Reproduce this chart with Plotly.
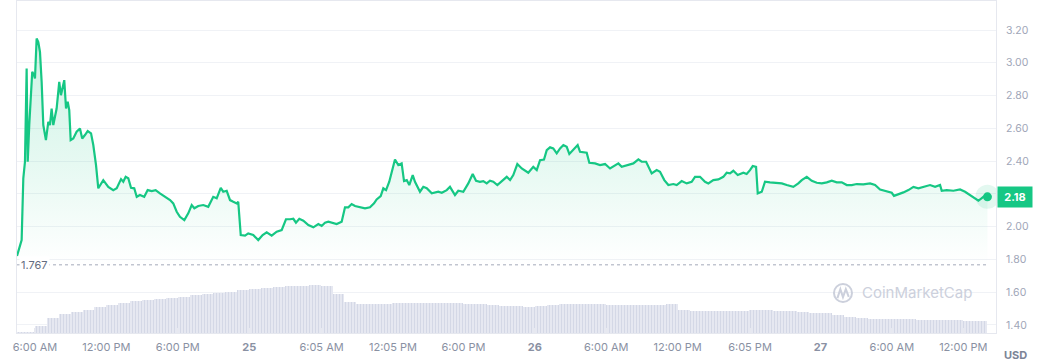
import pandas as pd
import plotly.graph_objects as go

BASE = pd.Timestamp("2024-01-24 00:00")

# ---- price series (hours after 24th 00:00, USD) ----
price_hours = [
    4.49, 4.68, 4.88, 5.02, 5.16, 5.30, 5.39, 5.52, 5.66, 5.77, 5.92, 6.00, 6.14, 6.28, 6.42,
    6.56, 6.70, 6.92, 7.12, 7.26, 7.40, 7.54, 7.82, 8.04, 8.18, 8.33, 8.46, 8.61, 8.75, 8.88,
    9.00, 9.22, 9.36, 9.50, 9.78, 9.97, 10.20, 10.43, 10.71, 10.90, 11.13, 11.32, 11.74, 12.16,
    12.58, 12.87, 13.23, 13.42, 13.62, 13.84, 14.07, 14.34, 14.55, 14.82, 15.18, 15.47, 15.81,
    16.14, 16.50, 16.92, 17.35, 17.62, 17.91, 18.18, 18.55, 18.88, 19.17, 19.39, 19.72, 20.14,
    20.56, 20.98, 21.27, 21.61, 21.82, 22.11, 22.39, 22.66, 22.95, 23.08, 23.29, 23.65, 23.92,
    24.34, 24.76,
    25.13, 25.47, 25.89, 26.31, 26.73, 27.09, 27.43, 27.71, 27.93, 28.21, 28.55, 28.97, 29.39,
    29.81, 30.09, 30.37, 30.65, 30.93, 31.35, 31.77, 32.05, 32.33, 32.61, 32.89, 33.31, 33.73,
    34.15, 34.49, 34.71, 35.05, 35.27, 35.50, 35.77, 35.97, 36.25, 36.53, 36.81, 37.01, 37.24,
    37.45, 37.74, 37.93, 38.35, 38.63, 38.92, 39.34, 39.89, 40.18, 40.60, 40.87, 41.29, 41.57,
    41.99, 42.41, 42.78, 43.06, 43.39, 43.67, 43.96, 44.23, 44.51, 44.85, 45.08,
    45.35, 45.64, 45.92, 46.19, 46.53, 46.90, 47.45, 47.87, 48.16, 48.44, 48.77, 49.00, 49.28,
    49.55, 49.84, 50.12, 50.40, 50.68, 50.90, 51.24, 51.60, 51.80, 52.36, 52.58, 53.06, 53.48,
    53.90, 54.32, 54.74, 55.02, 55.30, 55.72, 56.28, 56.70, 56.98, 57.35, 57.82, 58.24, 58.52,
    58.88, 59.22, 59.64, 59.92, 60.34, 60.76, 61.18, 61.46, 61.88, 62.30, 62.58, 63.00, 63.42,
    63.84, 64.12, 64.40, 64.68, 65.05, 65.52, 65.80, 66.08,
    66.31, 66.59, 66.73, 67.07, 67.34, 67.76, 68.18, 68.75, 69.17, 69.72, 70.14, 70.43, 70.85,
    71.27, 71.69, 72.11, 72.53, 72.95, 73.37, 73.79, 74.21, 74.63, 75.05, 75.60, 76.17, 76.59,
    77.01, 77.57, 77.99, 78.18, 78.55, 78.97, 79.39, 79.81, 80.23, 80.65, 81.21, 81.63, 82.05,
    82.19, 82.61, 83.17, 83.73, 84.15, 84.57, 84.99, 85.27, 85.69, 86.03,
]
price_usd = [
    1.821, 1.868, 1.918, 2.295, 2.396, 2.965, 2.396, 2.620, 2.823, 2.945, 2.924, 2.904, 3.148, 3.127, 3.066,
    2.884, 2.620, 2.528, 2.640, 2.620, 2.721, 2.620, 2.721, 2.884, 2.802, 2.843, 2.894, 2.721, 2.762, 2.711,
    2.528, 2.538, 2.559, 2.579, 2.599, 2.538, 2.559, 2.583, 2.569, 2.498, 2.376, 2.234, 2.284, 2.243,
    2.223, 2.234, 2.290, 2.274, 2.304, 2.295, 2.237, 2.234, 2.182, 2.193, 2.182, 2.223, 2.217,
    2.223, 2.203, 2.182, 2.162, 2.142, 2.091, 2.060, 2.040, 2.081, 2.132, 2.112, 2.126, 2.132,
    2.121, 2.182, 2.173, 2.237, 2.213, 2.219, 2.162, 2.152, 2.142, 2.152, 1.949, 1.945, 1.959,
    1.949, 1.918,
    1.949, 1.965, 1.945, 1.969, 1.979, 2.045, 2.045, 2.048, 2.024, 2.048, 2.036, 2.010, 1.996,
    2.016, 2.004, 2.024, 2.030, 2.024, 2.016, 2.030, 2.118, 2.118, 2.138, 2.126, 2.121, 2.112,
    2.118, 2.142, 2.166, 2.187, 2.234, 2.223, 2.274, 2.325, 2.410, 2.376, 2.386, 2.278, 2.284,
    2.254, 2.315, 2.274, 2.213, 2.243, 2.234, 2.203, 2.213, 2.207, 2.223, 2.243, 2.193, 2.219,
    2.213, 2.264, 2.321, 2.280, 2.274, 2.278, 2.264, 2.280, 2.274, 2.254, 2.268,
    2.284, 2.304, 2.284, 2.315, 2.382, 2.355, 2.329, 2.365, 2.345, 2.406, 2.410, 2.467, 2.484,
    2.477, 2.447, 2.477, 2.498, 2.487, 2.443, 2.467, 2.498, 2.457, 2.451, 2.390, 2.386, 2.376,
    2.382, 2.355, 2.376, 2.386, 2.365, 2.376, 2.386, 2.410, 2.396, 2.396, 2.325, 2.345, 2.335,
    2.284, 2.254, 2.260, 2.254, 2.278, 2.264, 2.274, 2.304, 2.304, 2.274, 2.264, 2.284, 2.288,
    2.304, 2.329, 2.325, 2.341, 2.315, 2.329, 2.321, 2.345,
    2.370, 2.365, 2.203, 2.213, 2.274, 2.270, 2.268, 2.264, 2.254, 2.243, 2.264, 2.284, 2.304,
    2.280, 2.268, 2.264, 2.270, 2.280, 2.270, 2.270, 2.254, 2.254, 2.260, 2.258, 2.264, 2.254,
    2.227, 2.213, 2.207, 2.188, 2.197, 2.209, 2.223, 2.243, 2.234, 2.243, 2.254, 2.243, 2.254,
    2.219, 2.223, 2.219, 2.227, 2.213, 2.193, 2.172, 2.158, 2.182, 2.182,
]

# ---- volume (hourly, millions USD) ----
volume_hours = [h + 0.5 for h in range(4, 86)]
volume_musd = [
    0.4, 0.5, 7, 15, 19, 21.5, 23.5, 26.5, 28.5, 30.5, 32, 33.5, 34.5, 35.5, 36.5, 38, 39.5,
    40.5, 41.5, 43, 44, 45, 46, 47, 47.5, 48, 47.5, 39, 31, 29.5, 29, 29.5, 30.5, 30.5, 30.5,
    30.5, 30, 30, 29.5, 29, 28, 27, 27, 26.5, 27.5, 28.5, 29, 29, 29, 29, 28.5, 28.5, 28.5,
    28.5, 28.5, 29, 23, 22.5, 22.5, 22, 22, 22.5, 23, 23, 22.5, 22, 21, 20.5, 20, 18, 16, 15,
    14.5, 14, 14, 14, 13.5, 13, 13, 13, 12.5, 12.5,
]

# ---- axis ticks ----
x_tick_hours = [6, 12, 18, 24, 30.08, 36.08, 42, 48, 54, 60, 66.08, 72, 78, 84]
x_tick_text = ["6:00 AM", "12:00 PM", "6:00 PM", "<b>25</b>", "6:05 AM", "12:05 PM", "6:00 PM",
               "<b>26</b>", "6:00 AM", "12:00 PM", "6:05 PM", "<b>27</b>", "6:00 AM", "12:00 PM"]
y_tick_vals = [1.40, 1.60, 1.80, 2.00, 2.20, 2.40, 2.60, 2.80, 3.00, 3.20]
# 2.20 label is hidden behind the last-price tag in the reference
y_tick_text = ["1.40", "1.60", "1.80", "2.00", "", "2.40", "2.60", "2.80", "3.00", "3.20"]
open_price = 1.767
last_price = price_usd[-1]

def to_time(hours):
    return [BASE + pd.Timedelta(hours=h) for h in hours]

price_t = to_time(price_hours)
vol_t = to_time(volume_hours)

GREEN = "#16c784"
FONT = "Inter, Roboto, sans-serif"

fig = go.Figure()

fig.add_trace(go.Scatter(
    x=price_t, y=price_usd, mode="lines",
    line=dict(color=GREEN, width=2.2),
    fill="tozeroy",
    fillgradient=dict(type="vertical", start=1.77, stop=3.2,
                      colorscale=[[0, "rgba(22,199,132,0)"], [0.4, "rgba(22,199,132,0.10)"],
                                  [1, "rgba(22,199,132,0.22)"]]),
    hoverinfo="skip", showlegend=False,
))

fig.add_trace(go.Bar(
    x=vol_t, y=volume_musd, yaxis="y2",
    width=[3600000] * len(volume_hours),
    marker=dict(color="#eceef5", line=dict(width=0),
                pattern=dict(shape="|", fgcolor="#bcc2d8", bgcolor="#eceef5",
                             size=3, solidity=0.5)),
    hoverinfo="skip", showlegend=False,
))

fig.add_trace(go.Scatter(
    x=[price_t[-1]], y=[last_price], mode="markers",
    marker=dict(size=24, color="rgba(22,199,132,0.12)"),
    cliponaxis=False, hoverinfo="skip", showlegend=False,
))
fig.add_trace(go.Scatter(
    x=[price_t[-1]], y=[last_price], mode="markers",
    marker=dict(size=9, color=GREEN),
    cliponaxis=False, hoverinfo="skip", showlegend=False,
))

x_start = BASE + pd.Timedelta(hours=4.49)
x_end = BASE + pd.Timedelta(hours=86.75)

fig.update_layout(
    width=1038, height=364,
    margin=dict(l=17, r=42, t=1, b=31),
    paper_bgcolor="white", plot_bgcolor="white",
    font=dict(family=FONT, size=11, color="#8a91a3"),
    bargap=0,
    xaxis=dict(
        range=[x_start, x_end], type="date",
        tickmode="array", tickvals=to_time(x_tick_hours), ticktext=x_tick_text,
        showgrid=False, zeroline=False,
        showline=True, mirror=True, linecolor="#e6e8ef", linewidth=1,
        ticks="inside", ticklen=5, tickcolor="#e6e8ef", ticklabelstandoff=4,
        tickfont=dict(family=FONT, size=11, color="#8a91a3"),
    ),
    yaxis=dict(
        range=[1.351, 3.377], side="right",
        tickmode="array", tickvals=y_tick_vals, ticktext=y_tick_text,
        showgrid=True, gridcolor="#f0f2f6", gridwidth=1, zeroline=False,
        showline=True, mirror=True, linecolor="#e6e8ef", linewidth=1,
        ticks="", ticklabelstandoff=7,
        tickfont=dict(family=FONT, size=10.5, color="#a0a6b8"),
    ),
    yaxis2=dict(range=[0, 332], overlaying="y", visible=False),
)

# open price dotted line + label
fig.add_shape(type="line", xref="x", yref="y", x0=x_start, x1=price_t[-1],
              y0=open_price, y1=open_price,
              line=dict(color="#a3a9ba", width=1, dash="dot"))
fig.add_annotation(xref="paper", yref="y", x=0, y=open_price, xanchor="left", xshift=2,
                   text=f"{open_price:.3f}", showarrow=False, bgcolor="white",
                   font=dict(family=FONT, size=11, color="#646c80"), borderpad=1)

# last price tag
fig.add_annotation(xref="paper", yref="y", x=1, y=last_price, xanchor="left", xshift=1,
                   text=f"<b>{last_price:.2f}</b>", showarrow=False, bgcolor=GREEN,
                   font=dict(family=FONT, size=11, color="white"), borderpad=3, width=28)

# currency label
fig.add_annotation(xref="paper", yref="paper", x=1, y=0, xanchor="left", yanchor="top",
                   xshift=6, yshift=-13, text="<b>USD</b>", showarrow=False,
                   font=dict(family=FONT, size=11, color="#7c8496"))

# watermark
fig.add_shape(type="circle", xref="paper", yref="paper",
              x0=0.8345, x1=0.8529, y0=0.0934, y1=0.1476,
              line=dict(color="#ccd0dc", width=2))
fig.add_shape(type="path", xref="paper", yref="paper",
              path="M 0.8380,0.1050 L 0.8410,0.1320 L 0.8437,0.1080 L 0.8466,0.1320 L 0.8496,0.1090",
              line=dict(color="#ccd0dc", width=2))
fig.add_annotation(xref="paper", yref="paper", x=0.861, y=0.121, xanchor="left", yanchor="middle",
                   text="CoinMarketCap", showarrow=False,
                   font=dict(family=FONT, size=15, color="#ccd0dc"))

fig.write_html(
    "out.html",
    config={"displayModeBar": False},
    post_script="document.body.style.margin='0';document.body.style.overflow='hidden';",
)
